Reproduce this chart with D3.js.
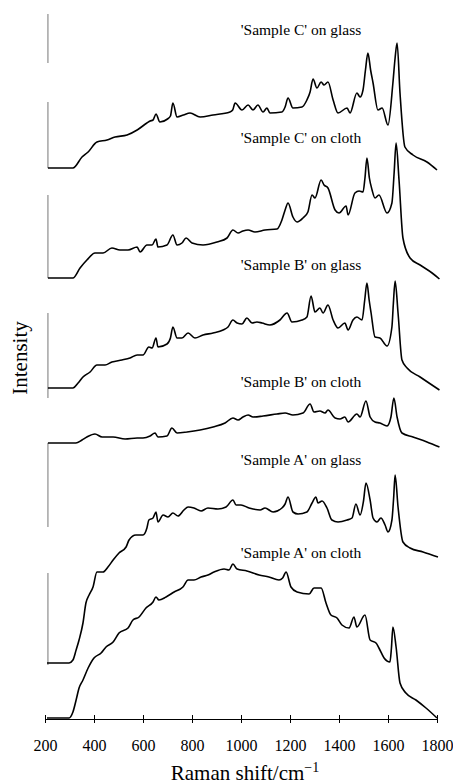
<!DOCTYPE html>
<html>
<head>
<meta charset="utf-8">
<script src="https://cdn.jsdelivr.net/npm/d3@7"></script>
<style>
  body { margin: 0; background: #fff; }
  svg { display: block; }
  text { font-family: "Liberation Serif", "Times New Roman", serif; fill: #000; }
</style>
</head>
<body>
<div id="chart"></div>
<script>
// Raman spectra, [wavenumber (cm-1), intensity above own baseline (a.u.)]
var sampleCGlass = [[212,0],[314,0],[351,110],[376,160],[412,260],[453,280],[486,310],[535,330],[576,380],[616,450],[629,470],[641,480],[653,540],[669,460],[700,490],[712,520],[722,650],[739,510],[765,530],[792,550],[833,510],[886,530],[955,560],[966,580],[976,650],[1004,580],[1029,630],[1049,580],[1069,630],[1090,560],[1106,600],[1118,550],[1167,560],[1180,610],[1192,700],[1212,600],[1249,610],[1269,680],[1282,760],[1294,890],[1310,800],[1327,860],[1339,830],[1355,860],[1376,680],[1396,550],[1433,600],[1445,550],[1473,750],[1486,710],[1498,780],[1508,980],[1518,1150],[1529,980],[1539,850],[1559,580],[1576,600],[1600,430],[1620,850],[1629,1100],[1637,1250],[1649,750],[1669,210],[1702,130],[1759,60],[1800,-20]];

var sampleCCloth = [[212,0],[314,0],[343,100],[371,180],[404,250],[437,250],[473,300],[506,280],[539,280],[576,310],[588,260],[616,330],[637,330],[653,390],[661,310],[698,330],[722,430],[739,330],[759,350],[776,400],[800,350],[845,330],[902,360],[943,400],[967,480],[988,450],[1008,470],[1029,480],[1057,460],[1098,480],[1147,490],[1167,580],[1180,680],[1192,750],[1212,610],[1229,560],[1253,600],[1273,660],[1290,830],[1302,800],[1327,980],[1339,930],[1355,900],[1384,680],[1400,650],[1429,720],[1437,630],[1465,850],[1482,870],[1498,860],[1506,1000],[1514,1200],[1524,1000],[1535,880],[1547,800],[1563,830],[1596,650],[1616,750],[1625,1050],[1633,1350],[1645,980],[1661,400],[1690,200],[1731,130],[1780,50],[1810,-10]];

var sampleBGlass = [[212,0],[314,0],[335,50],[355,110],[384,160],[412,230],[445,230],[473,260],[514,280],[547,300],[576,330],[600,330],[624,410],[637,400],[653,500],[661,410],[698,440],[712,500],[722,610],[739,500],[759,500],[784,550],[812,500],[845,530],[886,550],[927,580],[947,610],[967,680],[984,650],[1004,640],[1024,700],[1045,650],[1065,660],[1086,650],[1118,630],[1159,680],[1188,750],[1208,660],[1249,680],[1269,710],[1286,920],[1302,760],[1322,800],[1335,750],[1355,830],[1376,680],[1396,600],[1424,650],[1437,580],[1457,680],[1473,710],[1494,680],[1505,880],[1514,1050],[1523,880],[1531,750],[1547,510],[1567,500],[1596,420],[1616,610],[1622,850],[1629,1070],[1641,750],[1657,280],[1678,200],[1731,110],[1810,-20]];

var sampleBCloth = [[212,0],[326,0],[351,30],[371,60],[404,90],[433,60],[478,60],[527,40],[576,50],[600,50],[629,70],[649,100],[661,60],[698,70],[718,150],[739,100],[780,110],[833,130],[886,160],[935,200],[967,250],[988,230],[1008,260],[1029,280],[1049,260],[1090,270],[1147,290],[1180,300],[1212,280],[1253,300],[1282,390],[1298,310],[1322,320],[1343,300],[1355,330],[1384,250],[1404,240],[1424,260],[1437,210],[1473,290],[1486,260],[1510,420],[1527,260],[1547,210],[1567,200],[1596,170],[1612,260],[1624,450],[1637,260],[1657,100],[1702,60],[1759,10],[1810,-40]];

var sampleAGlass = [[208,0],[298,0],[314,30],[327,130],[339,230],[355,400],[367,600],[380,680],[396,760],[412,910],[437,910],[457,960],[478,1030],[502,1100],[531,1160],[543,1230],[571,1280],[600,1280],[616,1350],[624,1430],[641,1450],[653,1510],[661,1410],[682,1480],[702,1460],[722,1500],[743,1470],[767,1530],[784,1560],[808,1550],[837,1520],[865,1550],[906,1540],[939,1560],[967,1630],[980,1580],[1000,1580],[1033,1550],[1049,1540],[1078,1530],[1098,1550],[1131,1510],[1167,1550],[1180,1590],[1192,1660],[1212,1510],[1233,1490],[1269,1510],[1290,1600],[1306,1660],[1314,1600],[1331,1620],[1351,1550],[1371,1430],[1396,1410],[1433,1430],[1453,1450],[1469,1590],[1486,1480],[1500,1620],[1510,1800],[1527,1630],[1539,1450],[1555,1410],[1571,1450],[1588,1380],[1600,1310],[1616,1430],[1623,1650],[1629,1880],[1641,1560],[1661,1210],[1690,1150],[1743,1110],[1804,1060]];

var sampleACloth = [[208,0],[298,0],[314,60],[327,180],[339,300],[355,380],[376,500],[400,600],[429,650],[449,710],[478,760],[502,850],[539,900],[559,980],[584,1010],[612,1100],[641,1160],[653,1210],[665,1180],[694,1210],[727,1260],[763,1310],[784,1380],[808,1380],[837,1410],[865,1430],[890,1460],[931,1490],[951,1480],[967,1540],[984,1490],[1024,1470],[1074,1430],[1114,1410],[1155,1380],[1170,1400],[1184,1460],[1204,1310],[1229,1260],[1278,1240],[1298,1300],[1327,1300],[1347,1150],[1367,1030],[1392,1000],[1412,930],[1441,900],[1461,1010],[1473,910],[1506,1030],[1527,780],[1551,750],[1563,700],[1584,600],[1608,560],[1614,700],[1620,910],[1633,710],[1649,350],[1673,250],[1714,180],[1755,100],[1800,0]];

var spectra = [sampleACloth, sampleAGlass, sampleBCloth, sampleBGlass, sampleCCloth, sampleCGlass];
var offsets = [10, 560, 2760, 3310, 4410, 5510];
var labels = ["'Sample A' on cloth", "'Sample A' on glass", "'Sample B' on cloth",
              "'Sample B' on glass", "'Sample C' on cloth", "'Sample C' on glass"];
var labelLevels = [1610, 2540, 3320, 4490, 5760, 6840];
var labelShift = 1245;

// broken y axis pieces, in intensity units
var yAxisPieces = [[540, 1460], [1920, 2760], [3210, 4060], [4410, 5240], [5510, 6170], [6560, 7050]];
var yAxisAt = 212;

var xTicks = [200, 400, 600, 800, 1000, 1200, 1400, 1600, 1800];

var W = 453, H = 784;
var serif = "Liberation Serif, Times New Roman, serif";
var svg = d3.select("#chart").append("svg").attr("width", W).attr("height", H);

var x = d3.scaleLinear().domain([200, 1800]).range([45, 437]);
var y = d3.scaleLinear().domain([0, 7060]).range([719, 13]);

// y axis fragments
svg.append("g").selectAll("line")
  .data(yAxisPieces)
  .join("line")
  .attr("x1", x(yAxisAt)).attr("x2", x(yAxisAt))
  .attr("y1", function (d) { return y(d[0]); })
  .attr("y2", function (d) { return y(d[1]); })
  .attr("stroke", "#777")
  .attr("stroke-width", 1);

// x axis
var xAxis = svg.append("g")
  .attr("transform", "translate(0," + y(0) + ")")
  .call(d3.axisBottom(x).tickValues(xTicks).tickFormat(d3.format("d"))
    .tickSizeInner(4).tickSizeOuter(0).tickPadding(17));
xAxis.attr("font-family", serif);
xAxis.select(".domain").attr("stroke", "#000");
xAxis.selectAll(".tick line").attr("y1", -4).attr("y2", 4).attr("stroke", "#000");
xAxis.selectAll(".tick text")
  .attr("font-family", serif)
  .style("font-size", "16px")
  .attr("fill", "#000");

// spectra
var line = d3.line()
  .x(function (d) { return x(d[0]); })
  .curve(d3.curveMonotoneX);

svg.append("g").selectAll("path")
  .data(spectra)
  .join("path")
  .attr("d", function (d, i) {
    return line.y(function (p) { return y(p[1] + offsets[i]); })(d);
  })
  .attr("fill", "none")
  .attr("stroke", "#000")
  .attr("stroke-width", 1.6)
  .attr("stroke-linejoin", "round");

// sample labels
svg.append("g").selectAll("text")
  .data(labels)
  .join("text")
  .attr("x", x(labelShift))
  .attr("y", function (d, i) { return y(labelLevels[i]); })
  .attr("text-anchor", "middle")
  .attr("font-family", serif)
  .style("font-size", "15.5px")
  .text(function (d) { return d; });

// axis titles
var xt = svg.append("text")
  .attr("x", 245).attr("y", 780)
  .attr("text-anchor", "middle")
  .attr("font-family", serif)
  .style("font-size", "21px");
xt.append("tspan").text("Raman shift/cm");
xt.append("tspan").attr("dy", -8).style("font-size", "14px").text("\u22121");

svg.append("text")
  .attr("transform", "translate(27,358) rotate(-90)")
  .attr("text-anchor", "middle")
  .attr("font-family", serif)
  .style("font-size", "21px")
  .text("Intensity");
</script>
</body>
</html>
